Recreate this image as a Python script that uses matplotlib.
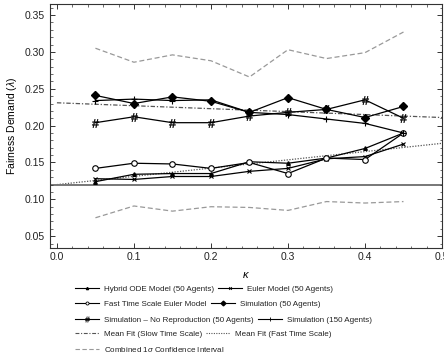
"""
Fairness demand vs kappa: models, simulations, mean fits and 1-sigma band.
"""
import matplotlib
matplotlib.use('Agg')
import matplotlib.pyplot as plt
from matplotlib.lines import Line2D
from matplotlib.ticker import MultipleLocator, FormatStrFormatter

# ============================================================================
# DATA
# ============================================================================
KAPPA = [0.05, 0.10, 0.15, 0.20, 0.25, 0.30, 0.35, 0.40, 0.45]

hybrid_ode = [0.124, 0.134, 0.135, 0.135, 0.151, 0.149, 0.156, 0.169, 0.190]
euler = [0.128, 0.127, 0.131, 0.131, 0.138, 0.142, 0.155, 0.158, 0.175]
fast_euler = [0.142, 0.149, 0.148, 0.142, 0.150, 0.135, 0.156, 0.154, 0.190]
sim_50 = [0.241, 0.230, 0.239, 0.233, 0.218, 0.238, 0.222, 0.211, 0.226]
sim_no_repro = [0.204, 0.212, 0.204, 0.204, 0.213, 0.218, 0.222, 0.235, 0.210]
sim_150 = [0.234, 0.236, 0.234, 0.235, 0.218, 0.215, 0.209, 0.203, 0.190]

ci_upper = [0.305, 0.286, 0.296, 0.288, 0.266, 0.303, 0.291, 0.299, 0.327]
ci_lower = [0.075, 0.091, 0.084, 0.090, 0.089, 0.085, 0.097, 0.095, 0.097]

FIT_X = [0.0, 0.5]
slow_fit = [0.231, 0.211]
fast_fit = [0.120, 0.176]
BASELINE = 0.12

LABELS = [
    'Hybrid ODE Model (50 Agents)', 'Euler Model (50 Agents)',
    'Fast Time Scale Euler Model', 'Simulation (50 Agents)',
    'Simulation \u2013 No Reproduction (50 Agents)', 'Simulation (150 Agents)',
    'Mean Fit (Slow Time Scale)', 'Mean Fit (Fast Time Scale)',
    r'Combined 1$\sigma$ Confidence Interval',
]

# ============================================================================
# STYLE
# ============================================================================
plt.rcParams['font.family'] = ['Liberation Sans', 'DejaVu Sans']
plt.rcParams['mathtext.fontset'] = 'custom'
plt.rcParams['mathtext.it'] = 'Liberation Sans:italic'
plt.rcParams['mathtext.rm'] = 'Liberation Sans'

FRAME = '#333333'
DASH_DOT = (0, (3.5, 1.5, 1, 1.5))
DOTTED = (0, (1, 1.2))
DASHED = (0, (4, 2.2))

series_style = [
    dict(marker='^', ms=2.6, mfc='black', mec='black'),
    dict(marker='x', ms=3.2, mew=0.8),
    dict(marker='o', ms=4.0, mfc='white', mec='black', mew=0.8),
    dict(marker='D', ms=3.6, mfc='black', mec='black'),
    dict(marker=r'$\#$', ms=6.0, mew=0.3),
    dict(marker='+', ms=4.0, mew=0.8),
]
# smaller markers for the legend keys
legend_style = [
    dict(marker='^', ms=1.6, mfc='black', mec='black'),
    dict(marker='x', ms=2.0, mew=0.6),
    dict(marker='o', ms=2.2, mfc='white', mec='black', mew=0.6),
    dict(marker='D', ms=2.4, mfc='black', mec='black'),
    dict(marker=r'$\#$', ms=4.0, mew=0.2),
    dict(marker='+', ms=2.8, mew=0.6),
]
series = [hybrid_ode, euler, fast_euler, sim_50, sim_no_repro, sim_150]

# ============================================================================
# PLOT
# ============================================================================
fig = plt.figure(figsize=(4.44, 3.6), dpi=100)
ax = fig.add_axes([50 / 444, 1 - 248 / 360, 392 / 444, 244 / 360])

# confidence interval and fits
ax.plot(KAPPA, ci_upper, color='#999999', lw=0.9, ls=DASHED, zorder=1)
ax.plot(KAPPA, ci_lower, color='#999999', lw=0.9, ls=DASHED, zorder=1)
ax.plot(FIT_X, slow_fit, color='#555555', lw=0.9, ls=DASH_DOT, zorder=1)
ax.plot(FIT_X, fast_fit, color='#555555', lw=0.9, ls=DOTTED, zorder=1)
ax.axhline(BASELINE, color='#777777', lw=1.4, zorder=1)

for vals, st in zip(series, series_style):
    ax.plot(KAPPA, vals, color='black', lw=0.9, zorder=3, **st)

ax.set_xlim(-0.009, 0.5)
ax.set_ylim(0.034, 0.365)
ax.xaxis.set_major_locator(MultipleLocator(0.1))
ax.xaxis.set_minor_locator(MultipleLocator(0.02))
ax.yaxis.set_major_locator(MultipleLocator(0.05))
ax.yaxis.set_minor_locator(MultipleLocator(0.01))
ax.xaxis.set_major_formatter(FormatStrFormatter('%.1f'))
ax.yaxis.set_major_formatter(FormatStrFormatter('%.2f'))
ax.tick_params(which='both', direction='in', top=True, right=True,
               color=FRAME, labelsize=7.5, labelcolor='#222222')
ax.tick_params(which='major', length=3.5, width=0.7)
ax.tick_params(which='minor', length=1.8, width=0.5)
ax.tick_params(axis='x', pad=3)
for sp in ax.spines.values():
    sp.set_color(FRAME)
    sp.set_linewidth(0.8)

ax.set_xlabel(r'$\kappa$', fontsize=8, labelpad=6)
ax.set_ylabel(r'Fairness Demand ($\lambda$)', fontsize=7.5, labelpad=4)

# ============================================================================
# LEGEND (one row at a time, left aligned like the reference)
# ============================================================================
legend_handles = [Line2D([], [], color='black', lw=0.8, **st) for st in legend_style] + [
    Line2D([], [], color='#555555', lw=0.8, ls=DASH_DOT),
    Line2D([], [], color='#555555', lw=0.8, ls=DOTTED),
    Line2D([], [], color='#999999', lw=0.8, ls=DASHED),
]
rows = [(0, 1), (2, 3), (4, 5), (6, 7), (8,)]
row_y = [289, 304, 320, 334, 349]
for idx, y in zip(rows, row_y):
    leg = fig.legend([legend_handles[i] for i in idx], [LABELS[i] for i in idx],
                     loc='center left', bbox_to_anchor=(75 / 444, 1 - y / 360),
                     ncol=len(idx), frameon=False, fontsize=5.8,
                     handlelength=3.0, handletextpad=0.6, columnspacing=0.5,
                     borderpad=0, borderaxespad=0)
    for t in leg.get_texts():
        t.set_color('#222222')

fig.savefig('out.png', dpi=100)
